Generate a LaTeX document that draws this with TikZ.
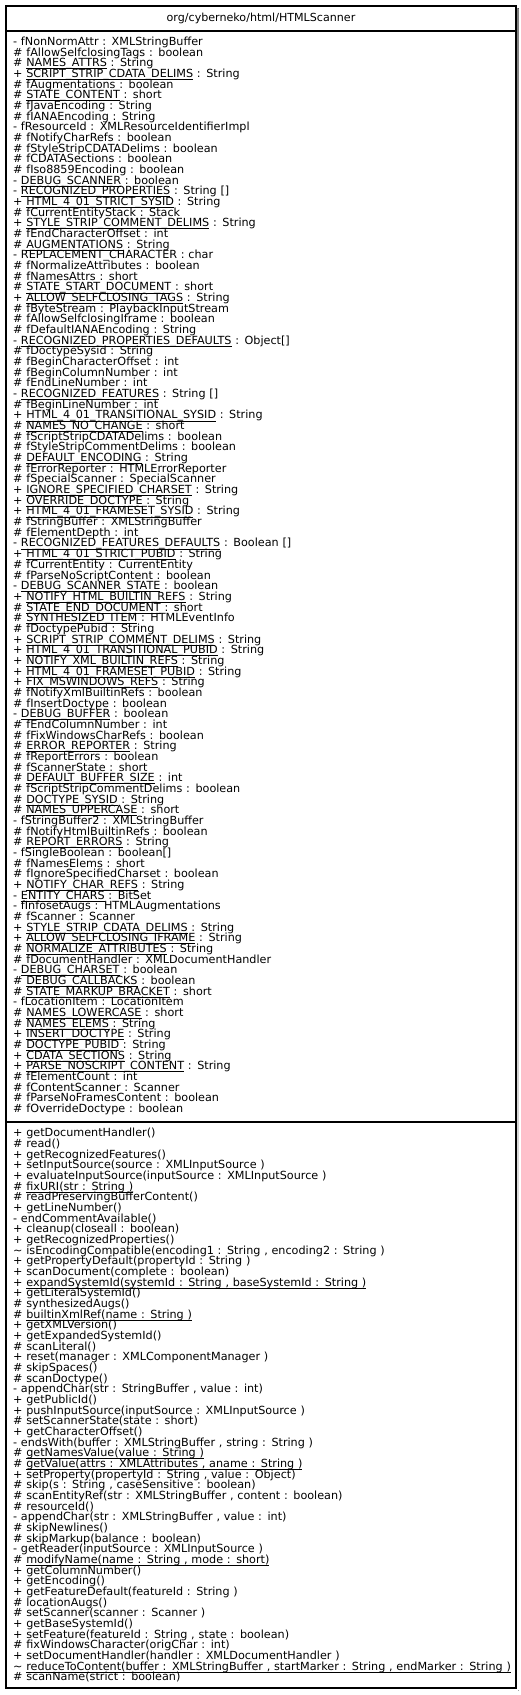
\documentclass[tikz,border=0pt]{standalone}
\usepackage{fontspec}
\setmainfont{DejaVu Sans}
\usepackage{tikz}
\usetikzlibrary{positioning}
\definecolor{shade}{HTML}{8A8A8A}
% static members are underlined
\newcommand{\stat}[1]{\setbox0\hbox{#1}\rlap{\rule[-2.3pt]{\wd0}{0.7pt}}\box0\relax}
\newcommand{\memberfont}{\fontsize{11.2pt}{10.67pt}\selectfont\lineskiplimit=-16000pt\relax}

\begin{document}
\begin{tikzpicture}[x=1pt,y=-1pt,
 compart/.style={draw,line width=1.4pt,fill=white,minimum width=510pt,inner sep=0pt,outer sep=0pt,
   font=\fontsize{11.1pt}{13pt}\selectfont},
 members/.style={inner sep=0pt,text width=503pt,align=left,font=\memberfont}]
 \useasboundingbox (0,0) rectangle (521,1695);
 \fill[shade] (8,8) rectangle (518.5,1690.5);
 \node[compart,minimum height=25pt] (title) at (261,18.5) {org/cyberneko/html/HTMLScanner};
 \node[compart,minimum height=1091pt,below=0pt of title] (attrs) {};
 \node[compart,minimum height=566pt,below=0pt of attrs] (ops) {};
 \node[members,anchor=base west] (attrlist) at ([xshift=7pt,yshift=-14.5pt]attrs.north west) {%
- fNonNormAttr : XMLStringBuffer\\
\# fAllowSelfclosingTags : boolean\\
\# \stat{NAMES\_ATTRS} : String\\
+ \stat{SCRIPT\_STRIP\_CDATA\_DELIMS} : String\\
\# fAugmentations : boolean\\
\# \stat{STATE\_CONTENT} : short\\
\# fJavaEncoding : String\\
\# fIANAEncoding : String\\
- fResourceId : XMLResourceIdentifierImpl\\
\# fNotifyCharRefs : boolean\\
\# fStyleStripCDATADelims : boolean\\
\# fCDATASections : boolean\\
\# fIso8859Encoding : boolean\\
- \stat{DEBUG\_SCANNER} : boolean\\
- \stat{RECOGNIZED\_PROPERTIES} : String []\\
+ \stat{HTML\_4\_01\_STRICT\_SYSID} : String\\
\# fCurrentEntityStack : Stack\\
+ \stat{STYLE\_STRIP\_COMMENT\_DELIMS} : String\\
\# fEndCharacterOffset : int\\
\# \stat{AUGMENTATIONS} : String\\
- REPLACEMENT\_CHARACTER : char\\
\# fNormalizeAttributes : boolean\\
\# fNamesAttrs : short\\
\# \stat{STATE\_START\_DOCUMENT} : short\\
+ \stat{ALLOW\_SELFCLOSING\_TAGS} : String\\
\# fByteStream : PlaybackInputStream\\
\# fAllowSelfclosingIframe : boolean\\
\# fDefaultIANAEncoding : String\\
- \stat{RECOGNIZED\_PROPERTIES\_DEFAULTS} : Object[]\\
\# fDoctypeSysid : String\\
\# fBeginCharacterOffset : int\\
\# fBeginColumnNumber : int\\
\# fEndLineNumber : int\\
- \stat{RECOGNIZED\_FEATURES} : String []\\
\# fBeginLineNumber : int\\
+ \stat{HTML\_4\_01\_TRANSITIONAL\_SYSID} : String\\
\# \stat{NAMES\_NO\_CHANGE} : short\\
\# fScriptStripCDATADelims : boolean\\
\# fStyleStripCommentDelims : boolean\\
\# \stat{DEFAULT\_ENCODING} : String\\
\# fErrorReporter : HTMLErrorReporter\\
\# fSpecialScanner : SpecialScanner\\
+ \stat{IGNORE\_SPECIFIED\_CHARSET} : String\\
+ \stat{OVERRIDE\_DOCTYPE} : String\\
+ \stat{HTML\_4\_01\_FRAMESET\_SYSID} : String\\
\# fStringBuffer : XMLStringBuffer\\
\# fElementDepth : int\\
- \stat{RECOGNIZED\_FEATURES\_DEFAULTS} : Boolean []\\
+ \stat{HTML\_4\_01\_STRICT\_PUBID} : String\\
\# fCurrentEntity : CurrentEntity\\
\# fParseNoScriptContent : boolean\\
- \stat{DEBUG\_SCANNER\_STATE} : boolean\\
+ \stat{NOTIFY\_HTML\_BUILTIN\_REFS} : String\\
\# \stat{STATE\_END\_DOCUMENT} : short\\
\# \stat{SYNTHESIZED\_ITEM} : HTMLEventInfo\\
\# fDoctypePubid : String\\
+ \stat{SCRIPT\_STRIP\_COMMENT\_DELIMS} : String\\
+ \stat{HTML\_4\_01\_TRANSITIONAL\_PUBID} : String\\
+ \stat{NOTIFY\_XML\_BUILTIN\_REFS} : String\\
+ \stat{HTML\_4\_01\_FRAMESET\_PUBID} : String\\
+ \stat{FIX\_MSWINDOWS\_REFS} : String\\
\# fNotifyXmlBuiltinRefs : boolean\\
\# fInsertDoctype : boolean\\
- \stat{DEBUG\_BUFFER} : boolean\\
\# fEndColumnNumber : int\\
\# fFixWindowsCharRefs : boolean\\
\# \stat{ERROR\_REPORTER} : String\\
\# fReportErrors : boolean\\
\# fScannerState : short\\
\# \stat{DEFAULT\_BUFFER\_SIZE} : int\\
\# fScriptStripCommentDelims : boolean\\
\# \stat{DOCTYPE\_SYSID} : String\\
\# \stat{NAMES\_UPPERCASE} : short\\
- fStringBuffer2 : XMLStringBuffer\\
\# fNotifyHtmlBuiltinRefs : boolean\\
\# \stat{REPORT\_ERRORS} : String\\
- fSingleBoolean : boolean[]\\
\# fNamesElems : short\\
\# fIgnoreSpecifiedCharset : boolean\\
+ \stat{NOTIFY\_CHAR\_REFS} : String\\
- \stat{ENTITY\_CHARS} : BitSet\\
- fInfosetAugs : HTMLAugmentations\\
\# fScanner : Scanner\\
+ \stat{STYLE\_STRIP\_CDATA\_DELIMS} : String\\
+ \stat{ALLOW\_SELFCLOSING\_IFRAME} : String\\
\# \stat{NORMALIZE\_ATTRIBUTES} : String\\
\# fDocumentHandler : XMLDocumentHandler\\
- \stat{DEBUG\_CHARSET} : boolean\\
\# \stat{DEBUG\_CALLBACKS} : boolean\\
\# \stat{STATE\_MARKUP\_BRACKET} : short\\
- fLocationItem : LocationItem\\
\# \stat{NAMES\_LOWERCASE} : short\\
\# \stat{NAMES\_ELEMS} : String\\
+ \stat{INSERT\_DOCTYPE} : String\\
\# \stat{DOCTYPE\_PUBID} : String\\
+ \stat{CDATA\_SECTIONS} : String\\
+ \stat{PARSE\_NOSCRIPT\_CONTENT} : String\\
\# fElementCount : int\\
\# fContentScanner : Scanner\\
\# fParseNoFramesContent : boolean\\
\# fOverrideDoctype : boolean};
 \node[members,anchor=base west] (oplist) at ([xshift=7pt,yshift=-14.7pt]ops.north west) {%
+ getDocumentHandler()\\
\# read()\\
+ getRecognizedFeatures()\\
+ setInputSource(source : XMLInputSource )\\
+ evaluateInputSource(inputSource : XMLInputSource )\\
\# \stat{fixURI(str : String )}\\
\# readPreservingBufferContent()\\
+ getLineNumber()\\
- endCommentAvailable()\\
+ cleanup(closeall : boolean)\\
+ getRecognizedProperties()\\
\textasciitilde{} isEncodingCompatible(encoding1 : String , encoding2 : String )\\
+ getPropertyDefault(propertyId : String )\\
+ scanDocument(complete : boolean)\\
+ \stat{expandSystemId(systemId : String , baseSystemId : String )}\\
+ getLiteralSystemId()\\
\# synthesizedAugs()\\
\# \stat{builtinXmlRef(name : String )}\\
+ getXMLVersion()\\
+ getExpandedSystemId()\\
\# scanLiteral()\\
+ reset(manager : XMLComponentManager )\\
\# skipSpaces()\\
\# scanDoctype()\\
- appendChar(str : StringBuffer , value : int)\\
+ getPublicId()\\
+ pushInputSource(inputSource : XMLInputSource )\\
\# setScannerState(state : short)\\
+ getCharacterOffset()\\
- endsWith(buffer : XMLStringBuffer , string : String )\\
\# \stat{getNamesValue(value : String )}\\
\# \stat{getValue(attrs : XMLAttributes , aname : String )}\\
+ setProperty(propertyId : String , value : Object)\\
\# skip(s : String , caseSensitive : boolean)\\
\# scanEntityRef(str : XMLStringBuffer , content : boolean)\\
\# resourceId()\\
- appendChar(str : XMLStringBuffer , value : int)\\
\# skipNewlines()\\
\# skipMarkup(balance : boolean)\\
- getReader(inputSource : XMLInputSource )\\
\# \stat{modifyName(name : String , mode : short)}\\
+ getColumnNumber()\\
+ getEncoding()\\
+ getFeatureDefault(featureId : String )\\
\# locationAugs()\\
\# setScanner(scanner : Scanner )\\
+ getBaseSystemId()\\
+ setFeature(featureId : String , state : boolean)\\
\# fixWindowsCharacter(origChar : int)\\
+ setDocumentHandler(handler : XMLDocumentHandler )\\
\textasciitilde{} \stat{reduceToContent(buffer : XMLStringBuffer , startMarker : String , endMarker : String )}\\
\# scanName(strict : boolean)};
\end{tikzpicture}
\end{document}
